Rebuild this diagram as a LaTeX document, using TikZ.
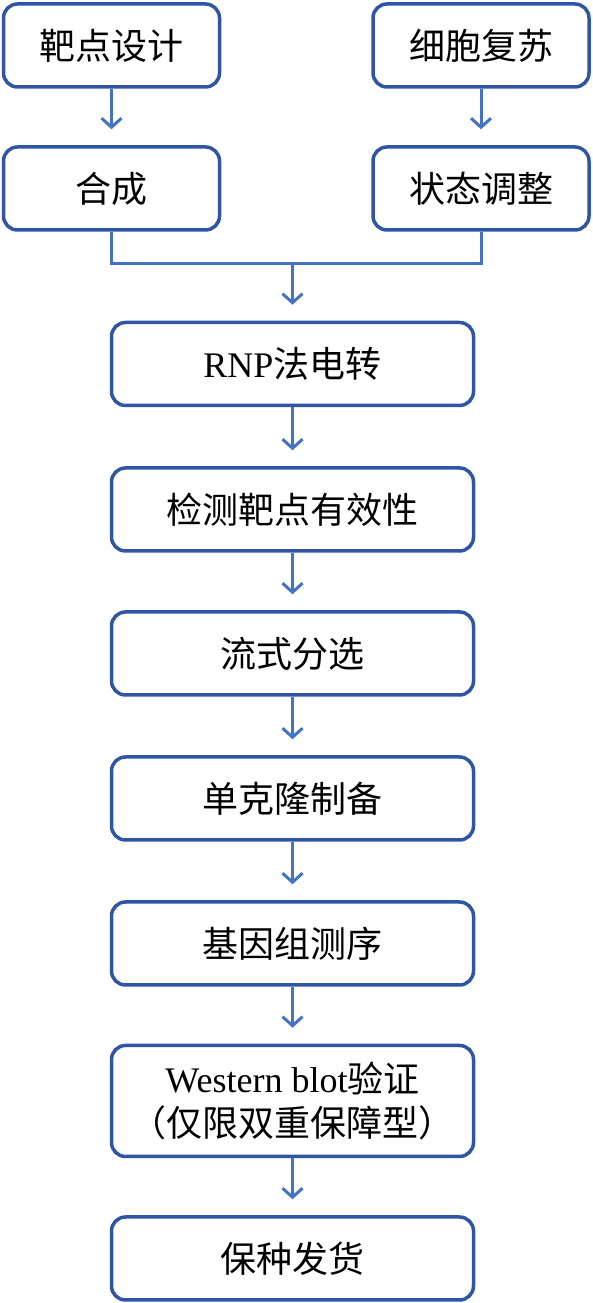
\documentclass[tikz,border=0pt]{standalone}
\usepackage{fontspec}
\setmainfont{Liberation Serif}
\newfontfamily\cjk{Noto Sans CJK SC}
\usetikzlibrary{arrows.meta, positioning}
\usepackage{xcolor}

\definecolor{boxblue}{HTML}{2F55A4}
\definecolor{lineblue}{HTML}{4472C4}

\begin{document}
\begin{tikzpicture}[
    x=1pt, y=1pt,
    box node/.style={rectangle, rounded corners=14pt, draw=boxblue, line width=3.5pt, fill=white, minimum height=83pt, inner sep=0pt, align=center, font=\fontsize{36}{44}\selectfont},
    side node/.style={box node, minimum width=216pt},
    main node/.style={box node, minimum width=362pt},
    flow/.style={draw=lineblue, line width=3pt, -{Straight Barb[length=9pt, width=20pt, line width=3pt]}, shorten >=16pt}
]
    \useasboundingbox (0,0) rectangle (593,1303);

    \node[side node] (design) at (111.5, 1257.5) {\cjk 靶点设计};
    \node[side node] (revive) at (481, 1257.5) {\cjk 细胞复苏};
    \node[side node] (synth) at (111.5, 1114.5) {\cjk 合成};
    \node[side node] (state) at (481, 1114.5) {\cjk 状态调整};

    \node[main node] (rnp) at (292.5, 939) {RNP{\cjk 法电转}};
    \node[main node] (check) at (292.5, 793.5) {\cjk 检测靶点有效性};
    \node[main node] (sort) at (292.5, 649.5) {\cjk 流式分选};
    \node[main node] (clone) at (292.5, 504.5) {\cjk 单克隆制备};
    \node[main node] (seq) at (292.5, 359.5) {\cjk 基因组测序};
    \node[main node, minimum height=111pt] (wb) at (292.5, 202) {Western blot{\cjk 验证}\\{\cjk （仅限双重保障型）}};
    \node[main node] (ship) at (292.5, 44.5) {\cjk 保种发货};

    \coordinate (join) at (292.5, 1039);

    \draw[flow] (design) -- (synth);
    \draw[flow] (revive) -- (state);
    \draw[draw=lineblue, line width=3pt] (synth.south) |- (join) -| (state.south);
    \draw[flow] (join) -- (rnp);
    \draw[flow] (rnp) -- (check);
    \draw[flow] (check) -- (sort);
    \draw[flow] (sort) -- (clone);
    \draw[flow] (clone) -- (seq);
    \draw[flow] (seq) -- (wb);
    \draw[flow] (wb) -- (ship);
\end{tikzpicture}
\end{document}
